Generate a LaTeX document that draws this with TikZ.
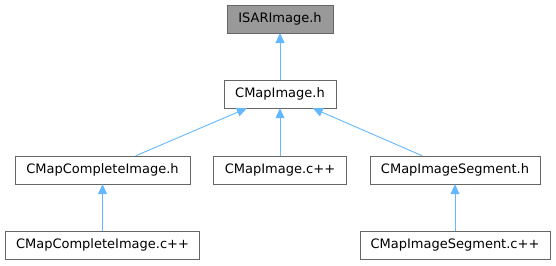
\documentclass[tikz,border=0pt]{standalone}
\usepackage{fontspec}
\setmainfont{DejaVu Sans}
\usetikzlibrary{arrows.meta}
\definecolor{edgeblue}{HTML}{63B8FF}
\definecolor{boxline}{HTML}{666666}
\definecolor{hdrgray}{HTML}{999999}

\begin{document}
\begin{tikzpicture}[x=1pt, y=-1pt,
      file/.style={draw=boxline, fill=white, minimum height=28pt, inner sep=0pt,
        font=\fontsize{13}{15}\selectfont},
      incl/.style={draw=edgeblue, line width=0.9pt, -{Triangle[length=10pt, width=9pt]}}
    ]
      \useasboundingbox (0,0) rectangle (556,265);

      \node[file, fill=hdrgray, minimum width=106pt] (isar) at (280,18.8) {ISARImage.h};
      \node[file, minimum width=112pt] (cmi) at (280,94) {CMapImage.h};

      \node[file, minimum width=175pt] (cci) at (102.5,170) {CMapCompleteImage.h};
      \node[file, minimum width=133pt] (cmic) at (280,170) {CMapImage.c++};
      \node[file, minimum width=170pt] (cmis) at (455,170) {CMapImageSegment.h};

      \node[file, minimum width=194pt] (ccic) at (102.5,245) {CMapCompleteImage.c++};
      \node[file, minimum width=190pt] (cmisc) at (455,245) {CMapImageSegment.c++};

      \draw[incl] (cmi) -- (isar);
      \draw[incl] (cci) -- (cmi);
      \draw[incl] (cmic) -- (cmi);
      \draw[incl] (cmis) -- (cmi);
      \draw[incl] (ccic) -- (cci);
      \draw[incl] (cmisc) -- (cmis);
    \end{tikzpicture}
\end{document}
